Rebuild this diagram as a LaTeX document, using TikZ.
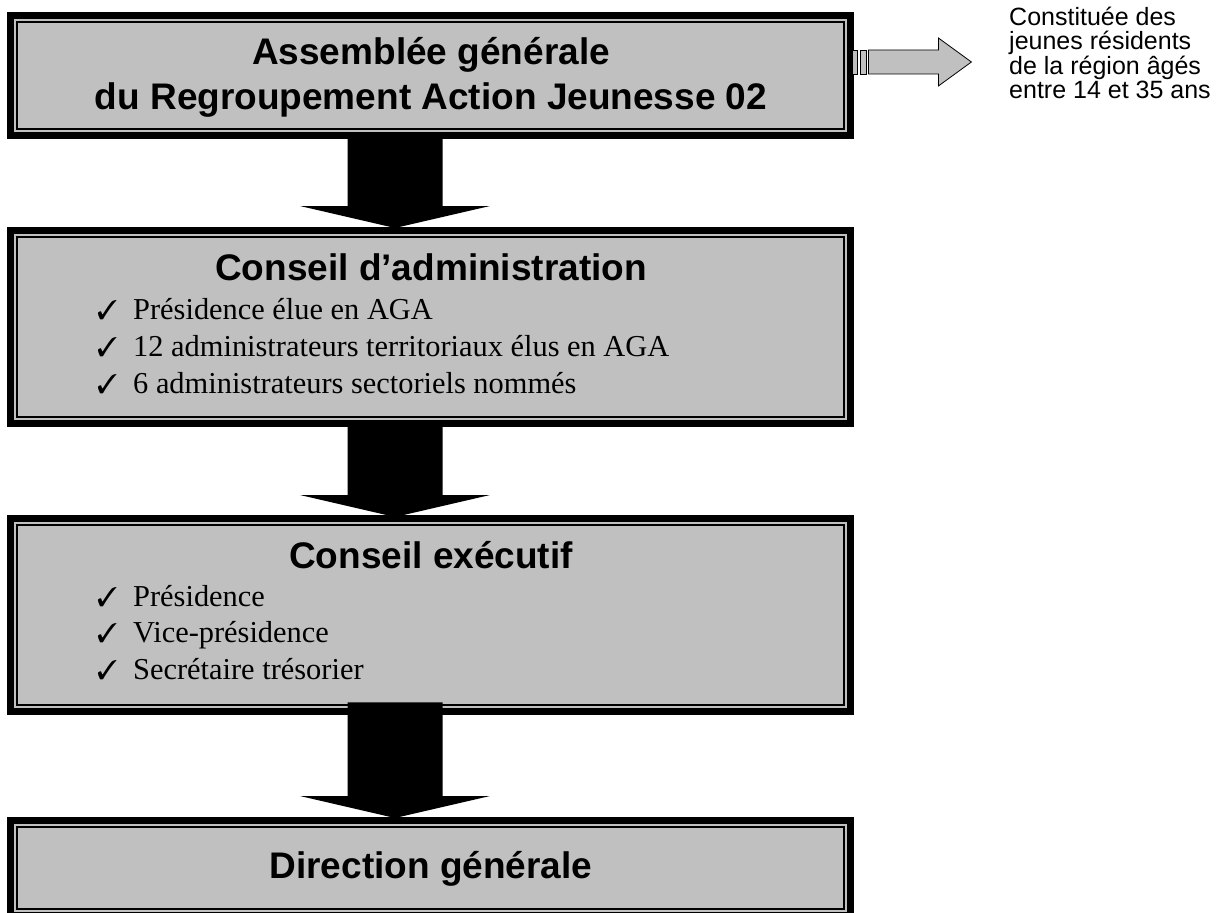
\documentclass[tikz,border=0pt]{standalone}
\usepackage{fontspec}
\setmainfont{Liberation Serif}
\newfontfamily\arialfont{Liberation Sans}
\usepackage{pifont}
\usetikzlibrary{calc}
\definecolor{boxgray}{HTML}{C0C0C0}
\newcommand\blkarrow[2]{%
  \path let \p1=(#1), \p2=(#2) in [fill=black]
    (\x1-47.5pt,\y1) -- (\x1+47.5pt,\y1) -- (\x1+47.5pt,\y2+22pt) -- (\x1+95pt,\y2+22pt)
    -- (\x1,\y2) -- (\x1-95pt,\y2+22pt) -- (\x1-47.5pt,\y2+22pt) -- cycle;}
\begin{document}
\begin{tikzpicture}[x=1pt,y=-1pt,
  frame/.style={fill=black, inner sep=0pt, anchor=north west, minimum width=847pt,
    path picture={
      \fill[boxgray] ([shift={(7pt,-7pt)}]path picture bounding box.north west)
        rectangle ([shift={(-7pt,7pt)}]path picture bounding box.south east);
      \draw[black, line width=1.6pt, fill=boxgray]
        ([shift={(10pt,-10pt)}]path picture bounding box.north west)
        rectangle ([shift={(-10pt,10pt)}]path picture bounding box.south east);
    }},
  title/.style={anchor=base, inner sep=0pt, font=\arialfont\bfseries\fontsize{37}{44}\selectfont},
  item/.style={anchor=base west, inner sep=0pt, font=\fontsize{30.4}{37}\selectfont},
  chk/.style={anchor=base west, inner sep=0pt, font=\fontsize{27}{30}\selectfont},
  note/.style={anchor=base west, inner sep=0pt, font=\arialfont\fontsize{25}{25}\selectfont},
  sidearrow/.style={draw=black, line width=0.8pt, fill=boxgray}
]
\clip (0,0) rectangle (1230,912);

% boxes
\node[frame, minimum height=127pt] (agbox) at (7,12) {};
\node[frame, minimum height=200pt] (ca) at (7,227) {};
\node[frame, minimum height=200pt] (ce) at (7,515) {};
\node[frame, minimum height=102pt] (dg) at (7,817) {};

% box 1 text
\node[title] (ag1) at (431,65) {Assemblée générale};
\node[title] (ag2) at (431,110) {du Regroupement Action Jeunesse 02};

% box 2 text
\node[title] (cat) at (431,280) {Conseil d’administration};
\node[chk] (cac1) at (97,319) {\ding{51}};
\node[item] (cai1) at (133,319) {Présidence élue en AGA};
\node[chk] (cac2) at (97,356) {\ding{51}};
\node[item] (cai2) at (133,356) {12 administrateurs territoriaux élus en AGA};
\node[chk] (cac3) at (97,393) {\ding{51}};
\node[item] (cai3) at (133,393) {6 administrateurs sectoriels nommés};

% box 3 text
\node[title] (cet) at (431,568) {Conseil exécutif};
\node[chk] (cec1) at (97,606) {\ding{51}};
\node[item] (cei1) at (133,606) {Présidence};
\node[chk] (cec2) at (97,642) {\ding{51}};
\node[item] (cei2) at (133,642) {Vice-présidence};
\node[chk] (cec3) at (97,679) {\ding{51}};
\node[item] (cei3) at (133,679) {Secrétaire trésorier};

% box 4 text
\node[title] (dgt) at (431,878) {Direction générale};

% down arrows
\coordinate (ax) at (395,0);
\coordinate (a1s) at ($(agbox.south -| ax)+(0,-2)$);
\coordinate (a1e) at ($(ca.north -| ax)+(0,1)$);
\coordinate (a2s) at ($(ca.south -| ax)+(0,-4)$);
\coordinate (a2e) at ($(ce.north -| ax)+(0,2)$);
\coordinate (a3s) at ($(ce.south -| ax)+(0,-13)$);
\coordinate (a3e) at ($(dg.north -| ax)+(0,1)$);
\blkarrow{a1s}{a1e}
\blkarrow{a2s}{a2e}
\blkarrow{a3s}{a3e}

% side arrow
\coordinate (sa) at (agbox.east |- 0,62);
\begin{scope}[shift={(sa)}]
  \draw[sidearrow] (-2,-12) rectangle (3,12);
  \draw[sidearrow] (5.5,-12) rectangle (12,12);
  \draw[sidearrow] (14,-12) -- (84,-12) -- (84,-24) -- (117,0) -- (84,24) -- (84,12) -- (14,12) -- cycle;
\end{scope}

% side note
\node[note] (n1) at (1009,25.5) {Constituée des};
\node[note] (n2) at (1009,50) {jeunes résidents};
\node[note] (n3) at (1009,74.5) {de la région âgés};
\node[note] (n4) at (1009,99) {entre 14 et 35 ans};
\end{tikzpicture}
\end{document}
